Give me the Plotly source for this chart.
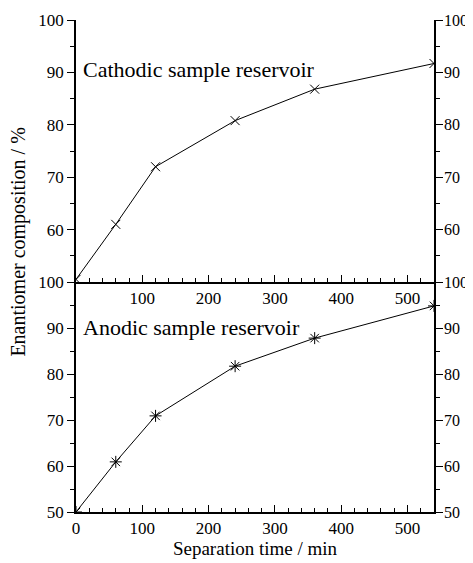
import plotly.graph_objects as go

time_min = [0, 60, 120, 240, 360, 540]
cathodic = [50.5, 61, 72, 80.8, 86.8, 91.7]
anodic = [50, 60.9, 70.9, 81.7, 87.8, 94.8]

x_ticks_bottom = [0, 100, 200, 300, 400, 500]
x_ticks_top = [100, 200, 300, 400, 500]
y_ticks_top = [60, 70, 80, 90, 100]
y_ticks_bottom = [50, 60, 70, 80, 90, 100]

FONT = "Liberation Serif"
split = 230 / 492

fig = go.Figure()
fig.add_trace(go.Scatter(x=time_min, y=cathodic, xaxis="x2", yaxis="y",
                         mode="lines+markers",
                         line=dict(color="black", width=1),
                         marker=dict(symbol="x-thin-open", size=9,
                                     line=dict(color="black", width=1)),
                         showlegend=False))
fig.add_trace(go.Scatter(x=time_min, y=anodic, xaxis="x", yaxis="y2",
                         mode="lines+markers",
                         line=dict(color="black", width=1),
                         marker=dict(symbol="asterisk-open", size=10,
                                     line=dict(color="black", width=1)),
                         showlegend=False))
# invisible traces to carry right-hand axes
fig.add_trace(go.Scatter(x=time_min, y=cathodic, xaxis="x2", yaxis="y3",
                         mode="lines", opacity=0, hoverinfo="skip", showlegend=False))
fig.add_trace(go.Scatter(x=time_min, y=anodic, xaxis="x", yaxis="y4",
                         mode="lines", opacity=0, hoverinfo="skip", showlegend=False))

tickfont = dict(family=FONT, size=17, color="black")
common_x = dict(range=[0, 540], showgrid=False, zeroline=False, showline=True,
                linecolor="black", linewidth=1.5, ticks="inside", ticklen=7,
                tickwidth=1, tickcolor="black", tickfont=tickfont, automargin=False,
                minor=dict(tickmode="linear", tick0=0, dtick=20, ticks="inside",
                           ticklen=4, tickwidth=1, tickcolor="black"))
common_y = dict(showgrid=False, zeroline=False, showline=True,
                linecolor="black", linewidth=1.5, ticks="outside", ticklen=7,
                tickwidth=1, tickcolor="black", tickfont=tickfont, automargin=False,
                minor=dict(tickmode="linear", tick0=0, dtick=5, ticks="outside",
                           ticklen=4, tickwidth=1, tickcolor="black"))
right_y = dict(common_y, tickfont=dict(family=FONT, size=16, color="black"),
               ticklabelstandoff=-2)

# page has an 8px body margin; figure sized to fit the 473x563 window
fig.update_layout(
    width=465, height=555,
    margin=dict(l=67.5, r=39, t=12, b=51),
    paper_bgcolor="white", plot_bgcolor="white",
    xaxis=dict(**common_x, anchor="y2", tickmode="array", tickvals=x_ticks_bottom,
               title=dict(text="Separation time / min",
                          font=dict(family=FONT, size=19, color="black"),
                          standoff=4)),
    xaxis2=dict(**common_x, anchor="y", matches="x", tickmode="array",
                tickvals=x_ticks_top),
    yaxis=dict(**common_y, domain=[split, 1], anchor="x2", range=[50, 100],
               tickmode="array", tickvals=y_ticks_top),
    yaxis2=dict(**common_y, domain=[0, split], anchor="x", range=[50, 100],
                tickmode="array", tickvals=y_ticks_bottom),
    yaxis3=dict(**right_y, overlaying="y", side="right", anchor="x2",
                range=[50, 100], tickmode="array", tickvals=y_ticks_top),
    yaxis4=dict(**right_y, overlaying="y2", side="right", anchor="x",
                range=[50, 100], tickmode="array", tickvals=y_ticks_bottom),
    annotations=[
        dict(text="Cathodic sample reservoir", xref="x2", yref="y", x=7, y=90.5,
             xanchor="left", yanchor="middle", showarrow=False,
             font=dict(family=FONT, size=22, color="black")),
        dict(text="Anodic sample reservoir", xref="x", yref="y2", x=7, y=90.2,
             xanchor="left", yanchor="middle", showarrow=False,
             font=dict(family=FONT, size=22, color="black")),
        dict(text="Enantiomer composition / %", xref="paper", yref="paper",
             x=-0.16, y=0.549, xanchor="center", yanchor="middle",
             textangle=-90, showarrow=False,
             font=dict(family=FONT, size=20, color="black")),
    ],
)

fig.write_html("out.html")
